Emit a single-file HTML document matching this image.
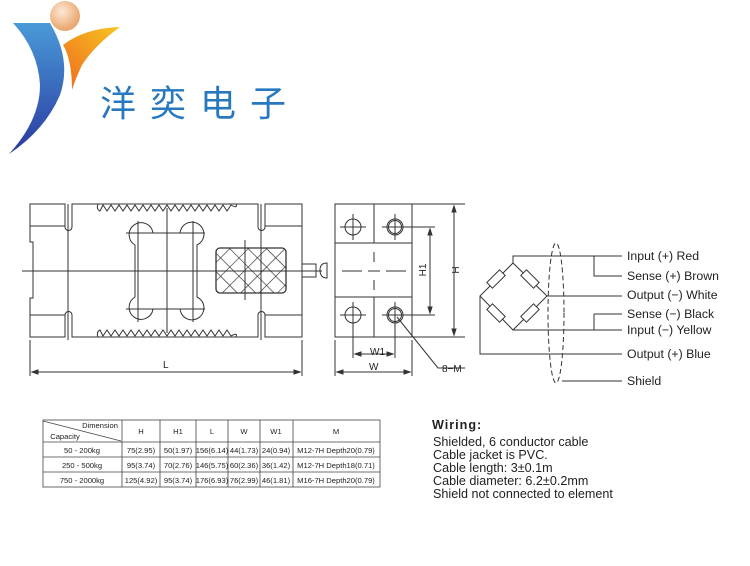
<!DOCTYPE html>
<html><head><meta charset="utf-8"><style>
body{margin:0;background:#fff;width:750px;height:566px;overflow:hidden}
svg{display:block}
text{font-family:"Liberation Sans",Arial,sans-serif;fill:#222}
</style></head><body>
<svg width="750" height="566" viewBox="0 0 750 566" xmlns="http://www.w3.org/2000/svg">
<defs>
<linearGradient id="gb" x1="0" y1="0" x2="0" y2="1"><stop offset="0" stop-color="#4a9ad8"/><stop offset="1" stop-color="#2a3aa0"/></linearGradient>
<linearGradient id="go" x1="1" y1="0" x2="0" y2="1"><stop offset="0" stop-color="#f7c520"/><stop offset="1" stop-color="#ee6a20"/></linearGradient>
<radialGradient id="gs" cx="0.4" cy="0.35" r="0.6"><stop offset="0" stop-color="#fde8d6"/><stop offset="1" stop-color="#eaa870"/></radialGradient>
<pattern id="hx" width="13" height="13" patternUnits="userSpaceOnUse" patternTransform="rotate(45)"><path d="M0 0H13M0 0V13" stroke="#222" stroke-width="1.2"/></pattern>
</defs>
<!-- logo -->
<circle cx="65" cy="16" r="15" fill="url(#gs)"/>
<path d="M13 23 L50 23 Q72 60 60 95 Q45 130 9 154 Q40 120 40 85 Q38 50 13 23 Z" fill="url(#gb)"/>
<path d="M63 45 Q85 28 120 27 Q95 45 82 65 Q75 80 72 90 Q72 60 63 45 Z" fill="url(#go)"/>
<text x="100" y="116" font-size="36" fill="#2878c0" style="font-family:'Noto Sans CJK SC',sans-serif;fill:#2878c0;letter-spacing:14px">洋奕电子</text>

<g fill="none" stroke="#333" stroke-width="1">
<!-- left body -->
<path d="M30 204 H65 V227 A3.5 3.5 0 0 0 72 227 V204 H258 V227 A3.5 3.5 0 0 0 265 227 V204 H302 V337 H265 V315 A3.5 3.5 0 0 0 258 315 V337 H72 V315 A3.5 3.5 0 0 0 65 315 V337 H30 V298 H33 V242 H30 Z"/>
<path d="M30 226 H65 M30 315 H65 M265 226 H302 M265 315 H302"/>
<path d="M68 204 V340 M261 204 V340"/>
<path d="M22 271 H322"/>
<path d="M167 208 V333"/>
<!-- knurl strips -->
<path d="M98 204 Q96 209 100 211 L103 205 L107 211 L111 205 L115 211 L119 205 L123 211 L127 205 L131 211 L135 205 L139 211 L143 205 L147 211 L151 205 L155 211 L159 205 L163 211 L167 205 L171 211 L175 205 L179 211 L183 205 L187 211 L191 205 L195 211 L199 205 L203 211 L207 205 L211 211 L215 205 L219 211 L223 205 L227 211 L231 205 Q238 209 236 204"/>
<path d="M98 337 Q96 332 100 330 L103 336 L107 330 L111 336 L115 330 L119 336 L123 330 L127 336 L131 330 L135 336 L139 330 L143 336 L147 330 L151 336 L155 330 L159 336 L163 330 L167 336 L171 330 L175 336 L179 330 L183 336 L187 330 L191 336 L195 330 L199 336 L203 330 L207 336 L211 330 L215 336 L219 330 L223 336 L227 330 L231 336 Q238 332 236 337"/>
<!-- central cutout -->
<path d="M153 233 H180 A12 12 0 1 1 197 245 V297 A12 12 0 1 1 180 309 H153 A12 12 0 1 1 135 297 V245 A12 12 0 1 1 153 233 Z"/>
<path d="M135 233 H197 M135 309 H197 M138 221 V322 M193 221 V322 M126 233 H150 M126 309 H150 M182 233 H205 M182 309 H205"/>
<!-- hatched -->
<rect x="216" y="248" width="70" height="45" rx="4" fill="url(#hx)" stroke-width="1.3"/>
<path d="M245 240 V300"/>
<!-- stub -->
<path d="M302 264 H316 V277 H302"/>
<path d="M327 263 Q320 263 320 270 Q320 278 327 278 Z"/>
<!-- L dim -->
<path d="M30 340 V376 M302 340 V376 M32 372 H300"/>
<path d="M32 372 l6 -2 v4 z M300 372 l-6 -2 v4 z" fill="#333"/>
<!-- right view -->
<rect x="335" y="204" width="77" height="133"/>
<path d="M335 243 H412 M335 297 H412 M374 204 V243 M374 297 V337"/>
<path d="M342 271 H362 M368 271 H380 M386 271 H406 M374 252 V262 M374 280 V290"/>
<circle cx="353" cy="227" r="8"/><circle cx="395" cy="227" r="8"/><circle cx="395" cy="227" r="6.5"/>
<circle cx="353" cy="315" r="8"/><circle cx="395" cy="315" r="8"/><circle cx="395" cy="315" r="6.5"/>
<path d="M340 227 H366 M382 227 H435 M353 214 V240 M395 214 V240"/>
<path d="M340 315 H366 M382 315 H435 M353 302 V358 M395 302 V358"/>
<path d="M412 204 H465 M412 337 H465 M454 206 V335 M430 229 V313"/>
<path d="M454 206 l-2 6 h4 z M454 335 l-2 -6 h4 z M430 229 l-2 6 h4 z M430 313 l-2 -6 h4 z" fill="#333"/>
<path d="M335 340 V376 M412 340 V376 M355 354 H393 M337 372 H410"/>
<path d="M355 354 l6 -2 v4 z M393 354 l-6 -2 v4 z M337 372 l6 -2 v4 z M410 372 l-6 -2 v4 z" fill="#333"/>
<path d="M397 317 L438 368 H465"/>
<!-- wiring -->
<path d="M513 263 L547 296 L513 330 L480 296 Z"/>
<g fill="#fff">
<rect x="-4" y="-9" width="8" height="18" transform="translate(496,279) rotate(45)"/>
<rect x="-4" y="-9" width="8" height="18" transform="translate(530,279) rotate(-45)"/>
<rect x="-4" y="-9" width="8" height="18" transform="translate(496,313) rotate(-45)"/>
<rect x="-4" y="-9" width="8" height="18" transform="translate(530,313) rotate(45)"/>
</g>
<path d="M513 263 V256 H622 M594 256 V276 H622 M547 296 H622 M594 314 H622 M513 330 H622 M594 314 V330 M480 296 V354 H622 M562 381 H622"/>
<ellipse cx="556" cy="313" rx="8" ry="70" stroke-dasharray="5 3"/>
</g>
<g font-size="12.3">
<text x="627" y="260">Input (+) Red</text>
<text x="627" y="280">Sense (+) Brown</text>
<text x="627" y="299">Output (−) White</text>
<text x="627" y="318">Sense (−) Black</text>
<text x="627" y="334">Input (−) Yellow</text>
<text x="627" y="358">Output (+) Blue</text>
<text x="627" y="385">Shield</text>
</g>
<g font-size="10">
<text x="163" y="368">L</text>
<text x="370" y="355">W1</text>
<text x="369" y="370">W</text>
<text x="442" y="372">8−M</text>
<text x="0" y="0" transform="translate(459,270) rotate(-90)" text-anchor="middle">H</text>
<text x="0" y="0" transform="translate(426,270) rotate(-90)" text-anchor="middle">H1</text>
</g>
<!-- table -->
<g fill="none" stroke="#444" stroke-width="0.8">
<rect x="43" y="420" width="337" height="67"/>
<path d="M43 442 H380 M43 457 H380 M43 472 H380 M122 420 V487 M160 420 V487 M196 420 V487 M228 420 V487 M260 420 V487 M293 420 V487 M43 421 L121 441"/>
</g>
<g font-size="7.6" text-anchor="middle">
<text x="100" y="428">Dimension</text>
<text x="65" y="439">Capacity</text>
<text x="141" y="434">H</text><text x="178" y="434">H1</text><text x="212" y="434">L</text><text x="244" y="434">W</text><text x="276" y="434">W1</text><text x="336" y="434">M</text>
<text x="82" y="453">50 - 200kg</text><text x="141" y="453">75(2.95)</text><text x="178" y="453">50(1.97)</text><text x="212" y="453">156(6.14)</text><text x="244" y="453">44(1.73)</text><text x="276" y="453">24(0.94)</text><text x="336" y="453">M12-7H Depth20(0.79)</text>
<text x="82" y="468">250 - 500kg</text><text x="141" y="468">95(3.74)</text><text x="178" y="468">70(2.76)</text><text x="212" y="468">146(5.75)</text><text x="244" y="468">60(2.36)</text><text x="276" y="468">36(1.42)</text><text x="336" y="468">M12-7H Depth18(0.71)</text>
<text x="82" y="483">750 - 2000kg</text><text x="141" y="483">125(4.92)</text><text x="178" y="483">95(3.74)</text><text x="212" y="483">176(6.93)</text><text x="244" y="483">76(2.99)</text><text x="276" y="483">46(1.81)</text><text x="336" y="483">M16-7H Depth20(0.79)</text>
</g>
<g font-size="12.6">
<text x="432" y="429" font-weight="bold" letter-spacing="1">Wiring:</text>
<text x="433" y="446">Shielded, 6 conductor cable</text>
<text x="433" y="459">Cable jacket is PVC.</text>
<text x="433" y="472">Cable length: 3±0.1m</text>
<text x="433" y="485">Cable diameter: 6.2±0.2mm</text>
<text x="433" y="498">Shield not connected to element</text>
</g>
</svg>
</body></html>
